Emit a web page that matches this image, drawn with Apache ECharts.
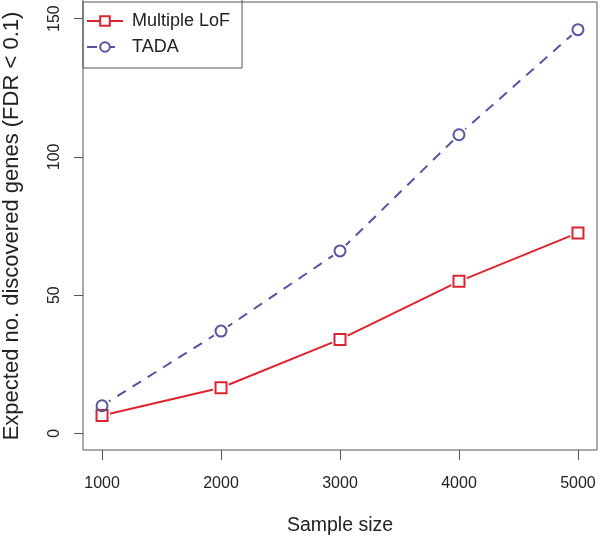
<!DOCTYPE html>
<html>
<head>
<meta charset="utf-8">
<script src="https://cdn.jsdelivr.net/npm/echarts@6/dist/echarts.min.js"></script>
<style>html,body{margin:0;padding:0;background:#fff;}#c{width:600px;height:537px;}</style>
</head>
<body>
<div id="c"></div>
<script>
var sampleSizes = [1000, 2000, 3000, 4000, 5000];
var multipleLoF = [6.5, 16.5, 34, 55, 72.5];
var tada = [10, 37, 66, 108, 146];
var xTicks = [1000, 2000, 3000, 4000, 5000];
var yTicks = [0, 50, 100, 150];

var FONT = 'Liberation Sans, Arial, Helvetica, sans-serif';
var RED = '#dc2430';
var BLUE = '#55559f';

function pairs(xs, ys) { return xs.map(function (x, i) { return [x, ys[i]]; }); }

var lofData = pairs(sampleSizes, multipleLoF);
var tadaData = pairs(sampleSizes, tada);

var chart = echarts.init(document.getElementById('c'), null, { renderer: 'canvas' });
chart.setOption({
  animation: false,
  backgroundColor: '#fff',
  grid: { left: 83, right: 3, top: 2, bottom: 87, outerBoundsMode: 'none', containLabel: false, show: true, borderColor: '#555', borderWidth: 1, backgroundColor: 'transparent' },
  legend: {
    left: 83, top: -2,
    orient: 'vertical',
    itemWidth: 36, itemHeight: 12, itemGap: 8,
    padding: [14, 12, 12, 3],
    borderColor: '#555', borderWidth: 1,
    textStyle: { fontFamily: FONT, fontSize: 18, color: '#222', padding: [0, 0, 0, 4] },
    data: ['Multiple LoF', 'TADA']
  },
  xAxis: {
    type: 'value', min: 840, max: 5160,
    name: 'Sample size', nameLocation: 'middle', nameGap: 66,
    nameTextStyle: { fontFamily: FONT, fontSize: 19.5, color: '#222' },
    axisLine: { show: false, onZero: false },
    axisTick: { show: true, inside: false, length: 10, customValues: xTicks, lineStyle: { color: '#555' } },
    axisLabel: { customValues: xTicks, margin: 26, fontFamily: FONT, fontSize: 16, color: '#222', formatter: function (v) { return String(v); } },
    splitLine: { show: false }
  },
  yAxis: {
    type: 'value', min: -6, max: 156,
    name: 'Expected no. discovered genes (FDR < 0.1)', nameLocation: 'middle', nameGap: 60, nameRotate: 90,
    nameTextStyle: { fontFamily: FONT, fontSize: 22, color: '#222' },
    axisLine: { show: false, onZero: false },
    axisTick: { show: true, inside: false, length: 9, customValues: yTicks, lineStyle: { color: '#555' } },
    axisLabel: { customValues: yTicks, rotate: 90, margin: 20, fontFamily: FONT, fontSize: 16, color: '#222' },
    splitLine: { show: false }
  },
  series: [
    {
      name: 'Multiple LoF', type: 'line', data: lofData,
      symbol: 'rect', symbolSize: 11, showSymbol: false, z: 2,
      lineStyle: { color: RED, width: 2 },
      itemStyle: { color: '#fff', borderColor: RED, borderWidth: 2 }
    },
    {
      name: 'TADA', type: 'line', data: tadaData,
      symbol: 'circle', symbolSize: 11, showSymbol: false, z: 2,
      lineStyle: { color: BLUE, width: 2, type: [10, 8] },
      itemStyle: { color: '#fff', borderColor: BLUE, borderWidth: 2 }
    },
    { type: 'scatter', data: lofData, symbol: 'circle', symbolSize: 17, z: 3, silent: true, itemStyle: { color: '#fff', opacity: 1 } },
    { type: 'scatter', data: tadaData, symbol: 'circle', symbolSize: 17, z: 3, silent: true, itemStyle: { color: '#fff', opacity: 1 } },
    { type: 'scatter', data: lofData, symbol: 'rect', symbolSize: 11, z: 4, silent: true, itemStyle: { color: 'rgba(255,255,255,0)', borderColor: RED, borderWidth: 2, opacity: 1 } },
    { type: 'scatter', data: tadaData, symbol: 'circle', symbolSize: 11, z: 4, silent: true, itemStyle: { color: 'rgba(255,255,255,0)', borderColor: BLUE, borderWidth: 2, opacity: 1 } }
  ]
});
</script>
</body>
</html>
